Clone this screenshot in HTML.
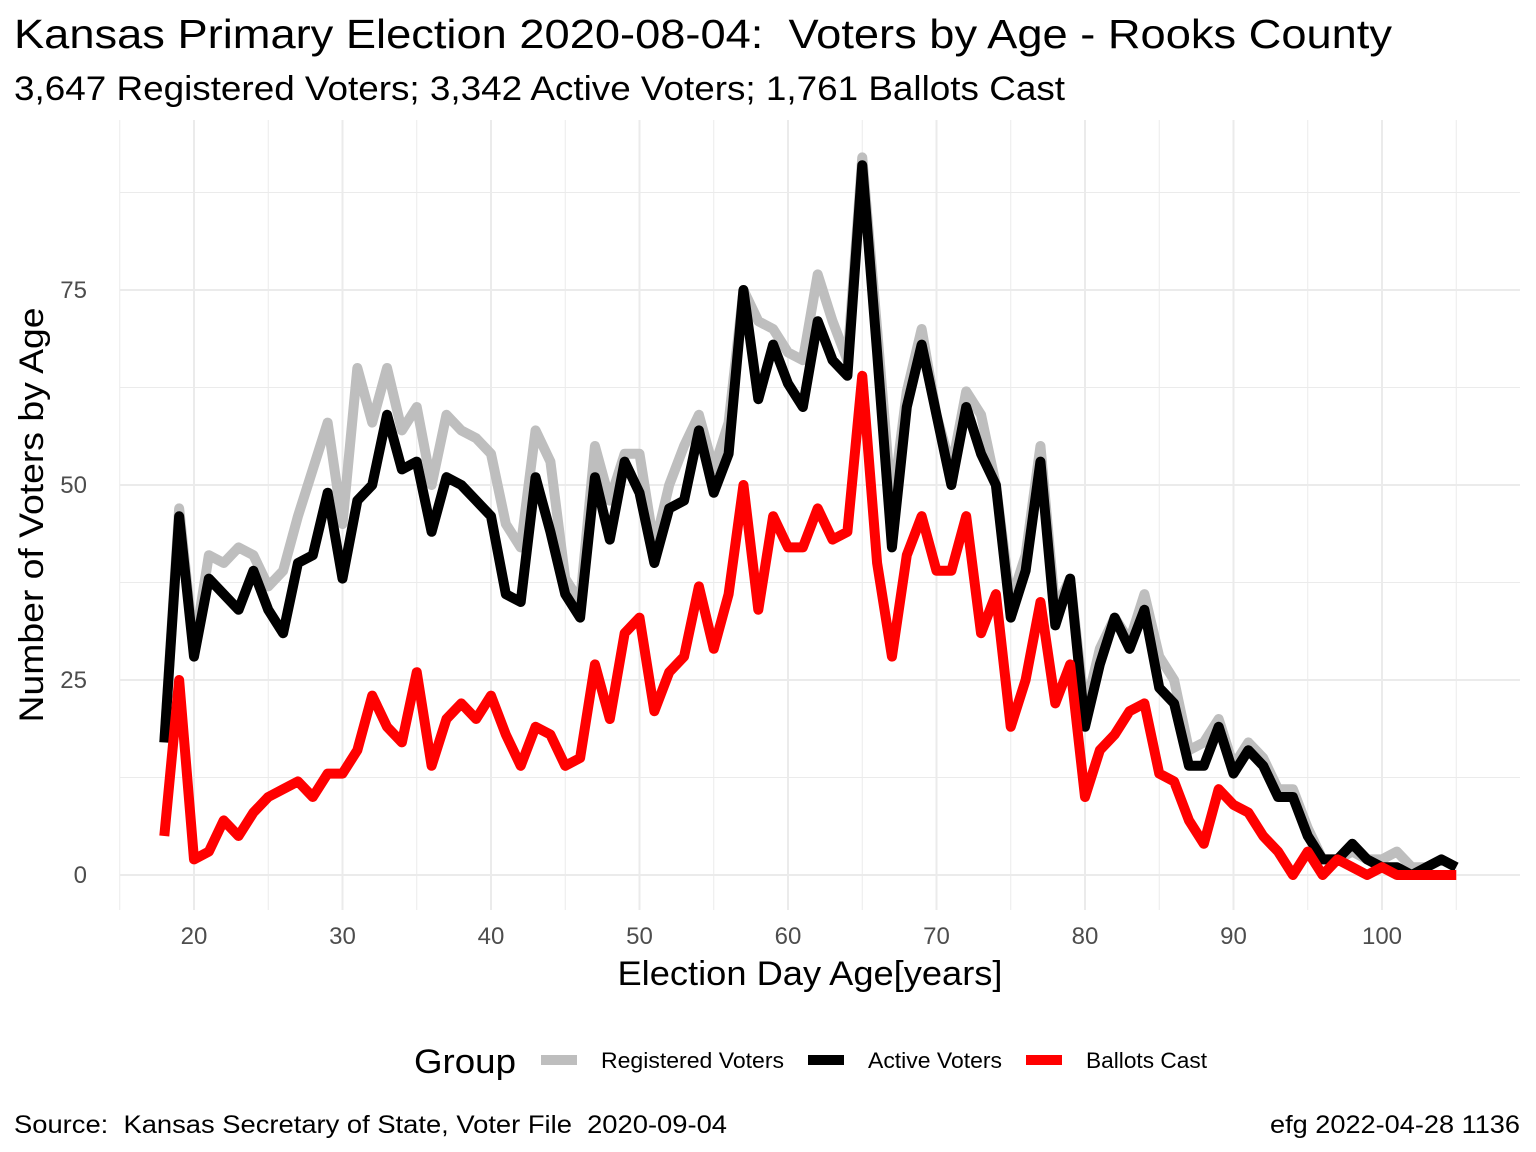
<!DOCTYPE html>
<html><head><meta charset="utf-8">
<style>
body{margin:0;background:#fff;}
svg{display:block;font-family:"Liberation Sans",Arial,sans-serif;}
text{white-space:pre;}
</style></head>
<body>
<svg id="chart" width="1536" height="1152" viewBox="0 0 1536 1152">
<rect width="1536" height="1152" fill="#fff"/>
<text x="14" y="48" font-size="41" fill="#000" textLength="1378" lengthAdjust="spacingAndGlyphs">Kansas Primary Election 2020-08-04:  Voters by Age - Rooks County</text>
<text x="14" y="100" font-size="34" fill="#000" textLength="1051" lengthAdjust="spacingAndGlyphs">3,647 Registered Voters; 3,342 Active Voters; 1,761 Ballots Cast</text>
<g id="grid"></g>
<g id="series"></g>
<g id="ticks"></g>
<text transform="translate(43,515) rotate(-90)" text-anchor="middle" font-size="34" fill="#000" textLength="415" lengthAdjust="spacingAndGlyphs">Number of Voters by Age</text>
<text x="810" y="985" text-anchor="middle" font-size="34" fill="#000" textLength="385" lengthAdjust="spacingAndGlyphs">Election Day Age[years]</text>
<g>
<text x="414" y="1073" font-size="34" fill="#000" textLength="102" lengthAdjust="spacingAndGlyphs">Group</text>
<line x1="541" y1="1060" x2="577" y2="1060" stroke="#bebebe" stroke-width="10"/>
<text x="601" y="1068" font-size="22" fill="#000" textLength="183" lengthAdjust="spacingAndGlyphs">Registered Voters</text>
<line x1="808" y1="1060" x2="844" y2="1060" stroke="#000" stroke-width="10"/>
<text x="868" y="1068" font-size="22" fill="#000" textLength="134" lengthAdjust="spacingAndGlyphs">Active Voters</text>
<line x1="1026" y1="1060" x2="1062" y2="1060" stroke="#ff0000" stroke-width="10"/>
<text x="1086" y="1068" font-size="22" fill="#000" textLength="121" lengthAdjust="spacingAndGlyphs">Ballots Cast</text>
</g>
<text x="14" y="1133" font-size="25" fill="#000" textLength="713" lengthAdjust="spacingAndGlyphs">Source:  Kansas Secretary of State, Voter File  2020-09-04</text>
<text x="1270" y="1133" font-size="25" fill="#000" textLength="250" lengthAdjust="spacingAndGlyphs">efg 2022-04-28 1136</text>
</svg>
<script>
const ages = [];
for (let a = 18; a <= 105; a++) ages.push(a);
const registered = [17,47,29,41,40,42,41,37,39,46,52,58,45,65,58,65,57,60,50,59,57,56,54,45,42,57,53,38,35,55,48,54,54,42,50,55,59,52,58,75,71,70,67,66,77,71,66,92,70,47,62,70,59,52,62,59,50,35,41,55,34,38,21,29,33,30,36,28,25,16,17,20,14,17,15,11,11,6,2,2,3,2,2,3,1,1,2,1];
const active = [17,46,28,38,36,34,39,34,31,40,41,49,38,48,50,59,52,53,44,51,50,48,46,36,35,51,44,36,33,51,43,53,49,40,47,48,57,49,54,75,61,68,63,60,71,66,64,91,67,42,60,68,59,50,60,54,50,33,39,53,32,38,19,27,33,29,34,24,22,14,14,19,13,16,14,10,10,5,2,2,4,2,1,1,0,1,2,1];
const ballots = [5,25,2,3,7,5,8,10,11,12,10,13,13,16,23,19,17,26,14,20,22,20,23,18,14,19,18,14,15,27,20,31,33,21,26,28,37,29,36,50,34,46,42,42,47,43,44,64,40,28,41,46,39,39,46,31,36,19,25,35,22,27,10,16,18,21,22,13,12,7,4,11,9,8,5,3,0,3,0,2,1,0,1,0,0,0,0,0];
const xTicks = [20,30,40,50,60,70,80,90,100];
const yTicks = [0,25,50,75];

const NS = "http://www.w3.org/2000/svg";
const px0 = 120, px1 = 1520, py0 = 120, py1 = 910;
function xs(v){ return 194 + (v - 20) * 14.85; }
function ys(v){ return 875 - v * 7.8; }
function mk(tag, attrs, parent){
  const e = document.createElementNS(NS, tag);
  for (const k in attrs) e.setAttribute(k, attrs[k]);
  parent.appendChild(e); return e;
}
const grid = document.getElementById('grid');
const ticks = document.getElementById('ticks');
for (let v = 15; v <= 105; v += 5) {
  const major = v % 10 === 0;
  const l = mk('line', {x1: xs(v), x2: xs(v), y1: py0, y2: py1, stroke: '#ebebeb', 'stroke-width': major ? 2 : 1}, grid);
  
  
}
for (let v = -12.5; v <= 95; v += 12.5) {
  const major = v % 25 === 0;
  const y = ys(v);
  if (y < py0 || y > py1) continue;
  const l = mk('line', {x1: px0, x2: px1, y1: y, y2: y, stroke: '#ebebeb', 'stroke-width': major ? 2 : 1}, grid);
  
  
}
xTicks.forEach(v => {
  const t = mk('text', {x: xs(v), y: 944, 'text-anchor': 'middle', 'font-size': 24, fill: '#4d4d4d'}, ticks);
  t.textContent = v;
  
  
});
yTicks.forEach(v => {
  const t = mk('text', {x: 87, y: ys(v) + 8, 'text-anchor': 'end', 'font-size': 24, fill: '#4d4d4d'}, ticks);
  t.textContent = v;
  
  
});
const series = document.getElementById('series');
[[registered, '#bebebe', 'registered-voters-line'], [active, '#000000', 'active-voters-line'], [ballots, '#ff0000', 'ballots-cast-line']].forEach(([d, c, n]) => {
  const pts = d.map((v, i) => xs(ages[i]) + ',' + ys(v)).join(' ');
  const p = mk('polyline', {points: pts, fill: 'none', stroke: c, 'stroke-width': 10, 'stroke-linejoin': 'round', 'stroke-linecap': 'butt'}, series);
  
  
});
</script>
</body></html>
